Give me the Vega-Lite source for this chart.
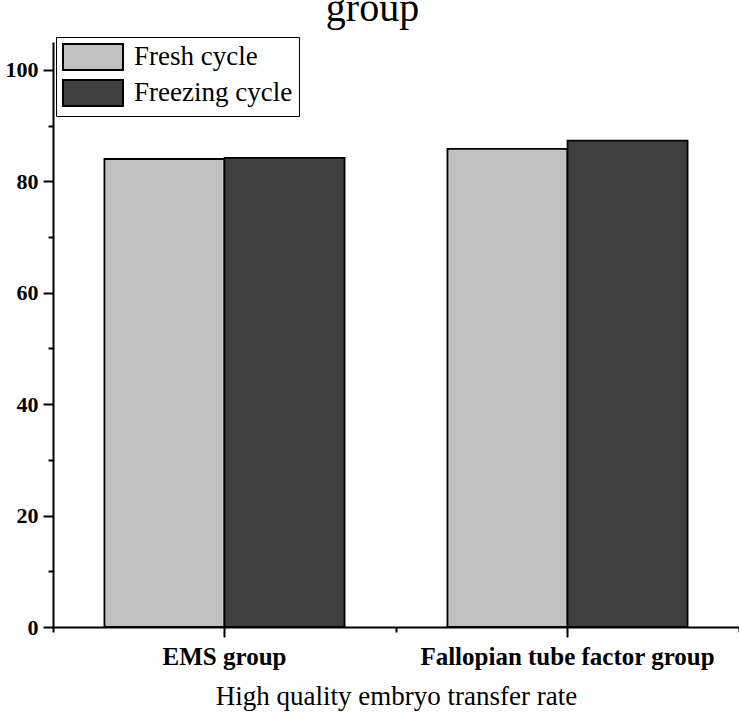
{
  "$schema": "https://vega.github.io/schema/vega-lite/v6.json",
  "width": 686,
  "height": 585,
  "autosize": "none",
  "padding": {"left": 53, "top": 42, "right": 0, "bottom": 88},
  "background": "white",
  "config": {"font": "Liberation Serif", "view": {"stroke": null}},
  "title": {"text": "group", "fontSize": 40, "font": "Liberation Serif", "fontWeight": "normal", "anchor": "middle", "frame": "bounds", "baseline": "alphabetic", "offset": -24, "color": "black"},
  "data": {"values": [
    {"group": "EMS group", "cycle": "Fresh cycle", "value": 84.0},
    {"group": "EMS group", "cycle": "Freezing cycle", "value": 84.2},
    {"group": "Fallopian tube factor group", "cycle": "Fresh cycle", "value": 85.8},
    {"group": "Fallopian tube factor group", "cycle": "Freezing cycle", "value": 87.3}
  ]},
  "resolve": {"scale": {"x": "independent"}, "axis": {"x": "independent"}},
  "layer": [
    {
      "mark": {"type": "bar", "stroke": "black", "strokeWidth": 1.8},
      "encoding": {
        "x": {"field": "group", "type": "nominal", "sort": ["EMS group", "Fallopian tube factor group"],
          "scale": {"paddingInner": 0.3, "paddingOuter": 0.15},
          "axis": {"orient": "bottom", "title": "High quality embryo transfer rate", "titleFont": "Liberation Serif", "titleFontSize": 27, "titleFontWeight": "normal", "titleColor": "black", "titlePadding": 14,
            "labelAngle": 0, "labelFont": "Liberation Serif", "labelFontSize": 25, "labelFontWeight": "bold", "labelColor": "black", "labelPadding": 7, "labelLimit": 500,
            "tickSize": 10, "tickWidth": 2, "tickColor": "black", "domainColor": "black", "domainWidth": 2, "grid": false}},
        "xOffset": {"field": "cycle", "type": "nominal", "sort": ["Fresh cycle", "Freezing cycle"], "scale": {"paddingInner": 0, "paddingOuter": 0}},
        "y": {"field": "value", "type": "quantitative", "scale": {"domain": [0, 105], "nice": false},
          "axis": {"title": null, "values": [0,10,20,30,40,50,60,70,80,90,100], "labelExpr": "datum.value % 20 === 0 ? datum.label : ''",
            "tickSize": {"condition": {"test": "datum.value % 20 === 0", "value": 10}, "value": 5},
            "grid": false, "domainColor": "black", "domainWidth": 2, "tickColor": "black", "tickWidth": 2,
            "labelFont": "Liberation Serif", "labelFontSize": 22, "labelFontWeight": "bold", "labelColor": "black", "labelPadding": 5, "labelOverlap": false}},
        "color": {"field": "cycle", "type": "nominal", "sort": ["Fresh cycle", "Freezing cycle"],
          "scale": {"domain": ["Fresh cycle", "Freezing cycle"], "range": ["#C0C0C0", "#404040"]},
          "legend": {"title": null, "orient": "none", "legendX": 3, "legendY": -5, "strokeColor": "black", "padding": 6,
            "symbolType": "M-1,-1L3.615,-1L3.615,1L-1,1Z", "symbolSize": 676, "symbolStrokeColor": "black", "symbolStrokeWidth": 2, "symbolOpacity": 1,
            "labelFont": "Liberation Serif", "labelFontSize": 27, "labelColor": "black", "labelOffset": 44, "rowPadding": 2, "labelLimit": 400}}
      }
    },
    {
      "mark": {"type": "bar", "opacity": 0},
      "encoding": {
        "x": {"field": "group", "type": "nominal", "sort": ["EMS group", "Fallopian tube factor group"],
          "scale": {"paddingInner": 0, "paddingOuter": 0},
          "axis": {"orient": "bottom", "title": null, "labels": false, "domain": false, "tickBand": "extent", "tickSize": 5, "tickWidth": 2, "tickColor": "black", "grid": false}}
      }
    }
  ]
}
